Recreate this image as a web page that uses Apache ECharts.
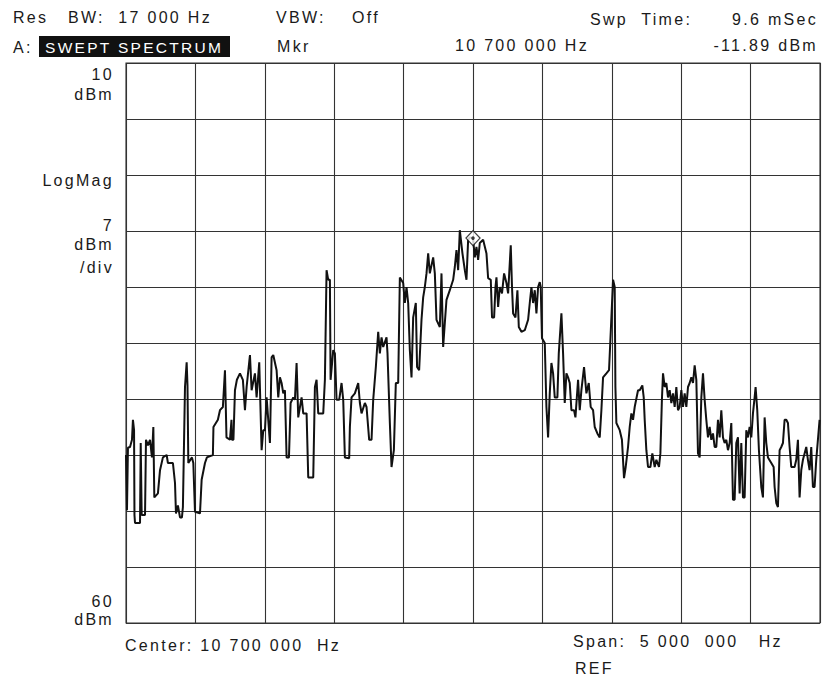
<!DOCTYPE html>
<html>
<head>
<meta charset="utf-8">
<script src="https://cdn.jsdelivr.net/npm/echarts@6/dist/echarts.min.js"></script>
<style>
  html, body { margin: 0; padding: 0; background: #fff; }
  #main { width: 825px; height: 684px; }
  #main text { letter-spacing: 2.3px; }
</style>
</head>
<body>
<div id="main"></div>
<script>
// ---- Data ----
// Frequency (MHz) of each trace point; span 8.2 .. 13.2 MHz (center 10.7 MHz, span 5 MHz)
const freqMHz = [
  8.200, 8.207, 8.214, 8.229, 8.243, 8.250, 8.258, 8.261, 8.265, 8.301,
  8.306, 8.313, 8.337, 8.344, 8.358, 8.373, 8.387, 8.397, 8.404, 8.430,
  8.445, 8.466, 8.493, 8.502, 8.538, 8.553, 8.560, 8.574, 8.589, 8.603,
  8.610, 8.625, 8.637, 8.643, 8.649, 8.675, 8.685, 8.697, 8.733, 8.745,
  8.769, 8.783, 8.826, 8.830, 8.862, 8.877, 8.898, 8.913, 8.924, 8.949,
  8.960, 8.963, 8.974, 8.985, 8.999, 9.021, 9.042, 9.057, 9.069, 9.093,
  9.105, 9.129, 9.141, 9.160, 9.177, 9.189, 9.201, 9.213, 9.237, 9.249,
  9.261, 9.285, 9.297, 9.309, 9.321, 9.333, 9.345, 9.357, 9.374, 9.386,
  9.405, 9.417, 9.429, 9.441, 9.465, 9.477, 9.501, 9.513, 9.549, 9.561,
  9.573, 9.585, 9.621, 9.633, 9.645, 9.657, 9.669, 9.674, 9.693, 9.705,
  9.717, 9.736, 9.753, 9.765, 9.777, 9.808, 9.813, 9.825, 9.849, 9.873,
  9.885, 9.897, 9.921, 9.933, 9.952, 9.969, 9.981, 10.000, 10.017, 10.029,
  10.041, 10.053, 10.077, 10.084, 10.101, 10.113, 10.130, 10.144, 10.161, 10.173,
  10.197, 10.209, 10.221, 10.233, 10.245, 10.257, 10.269, 10.288, 10.297, 10.312,
  10.329, 10.341, 10.353, 10.365, 10.377, 10.389, 10.413, 10.425, 10.437, 10.461,
  10.473, 10.485, 10.497, 10.509, 10.533, 10.557, 10.569, 10.581, 10.593, 10.605,
  10.624, 10.641, 10.653, 10.665, 10.677, 10.700, 10.713, 10.725, 10.737, 10.749,
  10.773, 10.797, 10.809, 10.828, 10.837, 10.852, 10.862, 10.869, 10.881, 10.893,
  10.909, 10.924, 10.941, 10.953, 10.972, 10.981, 10.989, 11.006, 11.020, 11.030,
  11.049, 11.073, 11.097, 11.109, 11.121, 11.133, 11.145, 11.157, 11.169, 11.181,
  11.188, 11.197, 11.217, 11.229, 11.241, 11.253, 11.265, 11.277, 11.289, 11.308,
  11.318, 11.337, 11.349, 11.361, 11.373, 11.385, 11.397, 11.409, 11.428, 11.438,
  11.457, 11.469, 11.481, 11.500, 11.517, 11.534, 11.548, 11.565, 11.577, 11.596,
  11.613, 11.625, 11.637, 11.661, 11.680, 11.692, 11.709, 11.721, 11.726, 11.733,
  11.757, 11.773, 11.788, 11.800, 11.817, 11.829, 11.841, 11.853, 11.865, 11.889,
  11.901, 11.920, 11.930, 11.937, 11.949, 11.961, 11.978, 11.992, 12.009, 12.021,
  12.040, 12.050, 12.061, 12.069, 12.081, 12.093, 12.105, 12.117, 12.129, 12.141,
  12.153, 12.165, 12.177, 12.189, 12.201, 12.213, 12.225, 12.237, 12.249, 12.261,
  12.273, 12.285, 12.297, 12.309, 12.321, 12.333, 12.345, 12.357, 12.369, 12.381,
  12.393, 12.405, 12.417, 12.429, 12.441, 12.453, 12.465, 12.477, 12.489, 12.501,
  12.513, 12.525, 12.537, 12.549, 12.561, 12.573, 12.585, 12.597, 12.609, 12.621,
  12.633, 12.645, 12.657, 12.669, 12.681, 12.693, 12.705, 12.717, 12.729, 12.736,
  12.748, 12.760, 12.777, 12.789, 12.801, 12.813, 12.825, 12.849, 12.866, 12.873,
  12.885, 12.897, 12.909, 12.921, 12.933, 12.945, 12.957, 12.969, 12.981, 12.993,
  13.017, 13.029, 13.041, 13.053, 13.065, 13.077, 13.089, 13.101, 13.113, 13.125,
  13.137, 13.149, 13.161, 13.173, 13.197
];
// Level (dBm) at each trace point
const levelDbm = [
  -39.0, -45.9, -38.1, -38.0, -37.1, -34.6, -35.9, -46.5, -47.5, -47.5,
  -37.5, -46.5, -46.5, -37.1, -37.8, -37.1, -39.3, -35.5, -44.3, -43.8,
  -40.9, -39.3, -39.0, -40.0, -40.0, -42.5, -46.3, -45.3, -46.8, -46.8,
  -45.5, -30.5, -27.4, -30.3, -40.0, -39.3, -40.0, -46.1, -46.3, -42.1,
  -40.0, -39.3, -39.0, -35.5, -34.6, -33.4, -33.0, -28.4, -36.8, -37.1,
  -34.6, -37.1, -37.1, -30.9, -29.6, -28.8, -29.6, -33.4, -30.5, -26.5,
  -30.9, -28.8, -31.8, -27.4, -38.4, -35.9, -35.9, -31.8, -37.5, -26.8,
  -26.5, -28.4, -31.8, -29.3, -30.0, -31.3, -30.9, -39.3, -39.3, -32.5,
  -31.8, -32.1, -27.5, -34.3, -31.8, -33.8, -33.8, -41.8, -41.8, -30.5,
  -29.6, -33.8, -33.8, -29.6, -15.9, -17.1, -17.1, -29.6, -25.9, -26.3,
  -32.1, -32.1, -30.0, -32.1, -39.3, -39.4, -35.5, -31.8, -31.3, -30.0,
  -32.5, -33.8, -32.5, -33.0, -37.1, -37.1, -32.1, -28.0, -23.6, -26.3,
  -24.3, -25.5, -24.3, -26.3, -35.0, -40.5, -38.4, -30.0, -30.0, -16.8,
  -17.5, -20.0, -18.0, -20.0, -25.9, -29.3, -21.8, -20.0, -28.0, -28.4,
  -22.1, -19.3, -18.0, -16.3, -13.8, -16.3, -14.3, -16.3, -22.1, -23.0,
  -16.3, -25.5, -22.5, -19.6, -18.4, -17.1, -15.5, -13.4, -15.9, -10.9,
  -13.8, -15.9, -17.1, -12.1, -11.8, -11.9, -14.3, -13.0, -14.6, -12.5,
  -12.1, -13.8, -16.9, -17.1, -21.8, -21.8, -18.0, -16.8, -20.5, -18.0,
  -18.8, -16.3, -17.5, -18.8, -12.8, -18.0, -21.3, -21.8, -18.4, -23.0,
  -23.6, -23.4, -22.1, -20.0, -18.0, -20.0, -18.4, -21.3, -18.0, -17.4,
  -18.0, -24.4, -25.0, -33.0, -36.8, -31.3, -27.5, -28.8, -31.8, -31.8,
  -26.3, -21.3, -26.3, -32.5, -28.8, -29.3, -30.0, -33.4, -33.4, -34.3,
  -29.6, -33.4, -30.9, -28.0, -31.3, -30.0, -33.0, -33.4, -35.5, -36.3,
  -36.8, -33.4, -29.3, -28.8, -28.4, -23.8, -17.1, -18.0, -30.5, -35.0,
  -35.9, -37.1, -41.9, -40.5, -38.0, -35.5, -33.8, -34.6, -33.0, -30.9,
  -30.9, -30.3, -31.8, -34.6, -38.4, -40.5, -40.5, -38.8, -40.5, -39.6,
  -40.5, -38.8, -32.1, -28.8, -30.5, -30.0, -31.8, -30.9, -32.5, -31.3,
  -33.0, -30.5, -33.4, -33.0, -30.9, -33.0, -31.3, -33.0, -30.5, -30.0,
  -29.3, -30.0, -27.8, -29.6, -38.8, -39.3, -31.8, -28.8, -32.1, -34.6,
  -36.8, -35.5, -37.1, -36.3, -38.0, -38.0, -34.6, -36.8, -33.4, -36.8,
  -37.5, -37.1, -38.4, -37.5, -35.0, -44.6, -44.6, -37.5, -36.8, -43.8,
  -37.5, -44.3, -44.3, -35.9, -36.8, -35.5, -36.8, -33.8, -31.8, -30.5,
  -33.4, -38.4, -43.0, -44.3, -34.3, -37.5, -39.3, -40.0, -40.5, -43.0,
  -45.0, -45.5, -38.4, -38.0, -37.5, -34.6, -34.6, -35.0, -38.0, -40.5,
  -40.5, -39.6, -37.1, -44.3, -40.9, -39.6, -38.8, -38.0, -39.6, -40.9,
  -38.0, -43.0, -43.0, -39.6, -34.6
];
// Marker
const markerFreq = 10.7;
const markerLevel = -11.89;
// Axis settings (display)
const freqStart = 8.2, freqStop = 13.2;
const refLevel = 10, bottomLevel = -60;
const divisions = 10;

const chart = echarts.init(document.getElementById('main'), null, { renderer: 'svg' });

const FONT = '"Liberation Sans", Arial, sans-serif';
const ink = '#1a1a1a';
function txt(text, x, y, align, size, fill) {
  return {
    type: 'text', silent: true,
    style: { text: text, x: x, y: y, align: align || 'left', verticalAlign: 'middle',
             font: (size || 16) + 'px ' + FONT, fill: fill || ink }
  };
}

const traceData = freqMHz.map((f, i) => [f, levelDbm[i]]);
const gridLine = { color: '#333', width: 1.1 };

const option = {
  backgroundColor: '#ffffff',
  animation: false,
  grid: { left: 126, top: 63, width: 694, height: 560, show: true,
          borderColor: '#333', borderWidth: 1.1, backgroundColor: 'transparent' },
  xAxis: [
    { type: 'value', min: freqStart, max: freqStop, show: false },
    { type: 'value', min: 0, max: divisions, interval: 1, position: 'bottom',
      axisLine: { show: false }, axisTick: { show: false }, axisLabel: { show: false },
      splitLine: { show: true, lineStyle: gridLine } }
  ],
  yAxis: [
    { type: 'value', min: bottomLevel, max: refLevel, show: false },
    { type: 'value', min: 0, max: divisions, interval: 1,
      axisLine: { show: false }, axisTick: { show: false }, axisLabel: { show: false },
      splitLine: { show: true, lineStyle: gridLine } }
  ],
  series: [
    { type: 'line', xAxisIndex: 0, yAxisIndex: 0, data: traceData,
      showSymbol: false, symbol: 'none', clip: true,
      lineStyle: { color: '#111', width: 2 }, z: 3 },
    { type: 'scatter', xAxisIndex: 0, yAxisIndex: 0,
      data: [[markerFreq, markerLevel]], symbol: 'diamond', symbolSize: [14, 15],
      itemStyle: { color: '#fff', borderColor: '#111', borderWidth: 1.3 }, z: 5 },
    { type: 'scatter', xAxisIndex: 0, yAxisIndex: 0,
      data: [[markerFreq, markerLevel]], symbol: 'circle', symbolSize: 3.5,
      itemStyle: { color: '#111' }, z: 6 }
  ],
  graphic: [
    txt('Res', 13, 17),
    txt('BW:  17 000 Hz', 68, 17),
    txt('VBW:', 276, 17),
    txt('Off', 352, 17),
    txt('Swp  Time:', 590, 19),
    txt('9.6 mSec', 818, 19, 'right'),
    txt('A:', 13, 47),
    { type: 'rect', silent: true, shape: { x: 39, y: 36, width: 191, height: 21 },
      style: { fill: '#111' } },
    txt('SWEPT SPECTRUM', 45, 47, 'left', 15.5, '#fff'),
    txt('Mkr', 277, 46),
    txt('10 700 000 Hz', 455, 45),
    txt('-11.89 dBm', 818, 45, 'right'),
    txt('10', 114, 74, 'right'),
    txt('dBm', 114, 94, 'right'),
    txt('LogMag', 114, 180, 'right'),
    txt('7', 114, 225, 'right'),
    txt('dBm', 114, 244, 'right'),
    txt('/div', 114, 267, 'right'),
    txt('60', 114, 601, 'right'),
    txt('dBm', 114, 619, 'right'),
    txt('Center: 10 700 000  Hz', 125, 645),
    txt('Span:  5 000  000   Hz', 573, 641),
    txt('REF', 575, 668)
  ]
};
chart.setOption(option);
</script>
</body>
</html>
